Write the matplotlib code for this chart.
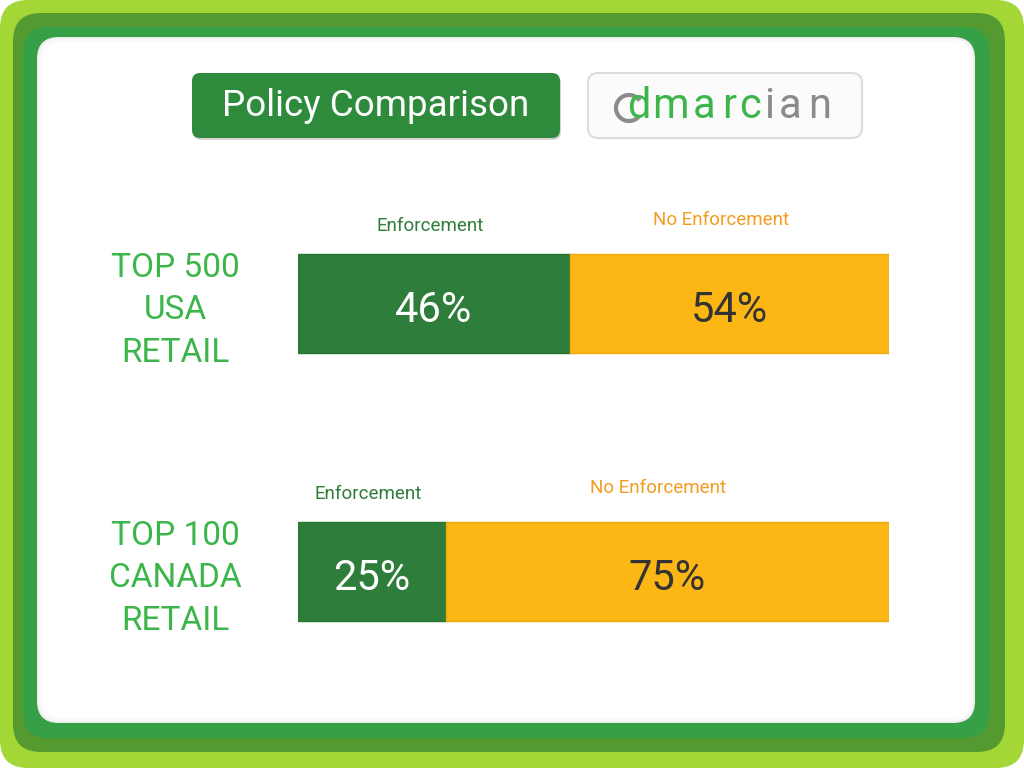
import numpy as np
import matplotlib.pyplot as plt
from matplotlib.patches import FancyBboxPatch, Arc

plt.rcParams['font.family'] = ['Roboto', 'DejaVu Sans']

# Données
groups = ['TOP 500\nUSA\nRETAIL', 'TOP 100\nCANADA\nRETAIL']
series = ['Enforcement', 'No Enforcement']
enforcement = [46, 25]
no_enforcement = [54, 75]
title = 'Policy Comparison'

bar_colors = ['#2e7d3a', '#fdb714']
label_colors = ['#2e7d3a', '#f39c1f']
pct_colors = ['white', '#333333']
row_color = '#3cb54a'

fig = plt.figure(figsize=(10.24, 7.68), dpi=100)
fig.patch.set_facecolor('white')

# Fond décoratif (coordonnées en pixels)
bg = fig.add_axes([0, 0, 1, 1])
bg.set_xlim(0, 1024)
bg.set_ylim(768, 0)
bg.axis('off')

def rbox(x0, y0, x1, y1, r, fc, ec='none', lw=0, z=1):
    p = FancyBboxPatch((x0, y0), x1 - x0, y1 - y0,
                       boxstyle=f'round,pad=0,rounding_size={r}',
                       fc=fc, ec=ec, lw=lw, zorder=z)
    bg.add_patch(p)

rbox(0, 0, 1024, 768, 28, '#a3d735')
rbox(13, 13, 1005, 752, 28, '#559a31')
rbox(23, 27, 990, 738, 26, '#36a046')
# ombre interne légère
rbox(37, 37, 975, 723, 22, '#f0f0f0')
rbox(39, 39, 973, 721, 21, '#fafafa')
rbox(42, 42, 970, 718, 19, 'white')

# Titre
rbox(193, 75, 561, 140, 8, '#d5d5d5', z=2)
rbox(192, 73, 560, 138, 8, '#2e8b3c', z=3)
bg.text(376, 106, title, color='white', fontsize=26.5,
        ha='center', va='center', zorder=4)

# Logo dmarcian
rbox(588, 73, 862, 138, 10, '#fbfbfb', ec='#dcdcdc', lw=1.5, z=2)
bg.add_patch(Arc((629, 108), 26, 26, theta1=35, theta2=325,
                 color='#8c8c8c', lw=3, zorder=3))
letters = ['d', 'm', 'a', 'r', 'c', 'i', 'a', 'n']
lx = [639, 670, 704, 729, 750, 769, 790, 820]
for i, (ch, x) in enumerate(zip(letters, lx)):
    bg.text(x, 118, ch, fontsize=30, ha='center', va='baseline',
            color='#3db54a' if i < 5 else '#8a8a8a', zorder=4)

# Barres
ax = fig.add_axes([298 / 1024, 1 - 640 / 768, 591 / 1024, 440 / 768])
ax.set_xlim(0, 100)
ax.set_ylim(1.256, -0.386)
ax.axis('off')

y = np.arange(len(groups))
h = 0.369
ax.barh(y, enforcement, height=h, color=bar_colors[0], edgecolor='#2a7434', lw=1)
ax.barh(y, no_enforcement, left=enforcement, height=h, color=bar_colors[1],
        edgecolor='#e9a90f', lw=1)

for i in range(len(groups)):
    e, n = enforcement[i], no_enforcement[i]
    ax.text(e / 2, y[i] + 0.025, f'{e}%', color=pct_colors[0], fontsize=30,
            ha='center', va='center')
    ax.text(e + n / 2, y[i] + 0.025, f'{n}%', color=pct_colors[1], fontsize=30,
            ha='center', va='center')
    ax.text(e / 2 - 0.7, y[i] - 0.29, series[0], color=label_colors[0],
            fontsize=13.5, ha='center', va='center')
    ax.text(e + n / 2 - 1.5, y[i] - 0.31, series[1], color=label_colors[1],
            fontsize=13.5, ha='center', va='center')
    ax.text(-0.208, y[i] + 0.026, groups[i], transform=ax.get_yaxis_transform(),
            color=row_color, fontsize=24, ha='center', va='center',
            linespacing=1.42, clip_on=False)

fig.savefig('out.png', dpi=100, facecolor='white')
